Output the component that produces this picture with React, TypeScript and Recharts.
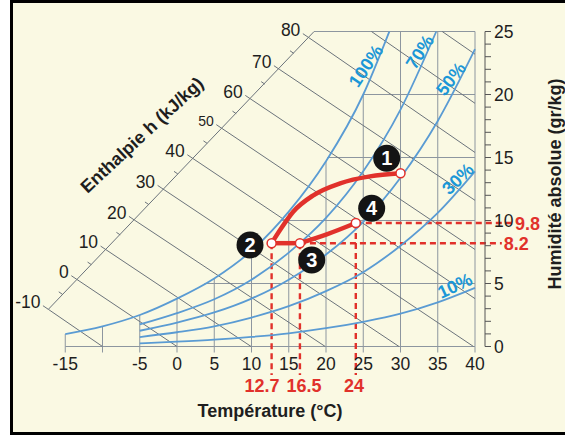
import React from 'react';
import { ComposedChart, Line, Scatter, XAxis, YAxis, ReferenceLine } from 'recharts';

const FONT = "'Liberation Sans', Arial, Helvetica, sans-serif";
const BLUE = '#5a9bd3';
const BLUE_TEXT = '#1b97d7';
const RED = '#e1312b';
const GRID = '#8d969f';
const ENTH = '#6b737b';
const INK = '#1e1e1e';

// x axis: temperature (°C)
const tempTicks = [-15, -10, -5, 0, 5, 10, 15, 20, 25, 30, 35, 40];
// right axis: absolute humidity (g/kg)
const humTicks = [0, 1, 2, 3, 4, 5, 6, 7, 8, 9, 10, 11, 12, 13, 14, 15, 16, 17, 18, 19, 20, 21, 22, 23, 24, 25];

// relative humidity curves (t = °C, w = g/kg)
const rh100 = [
  { t: -15, w: 0.99 }, { t: -10, w: 1.6 }, { t: -5, w: 2.5 }, { t: 0, w: 3.8 }, { t: 5, w: 5.4 },
  { t: 10, w: 7.6 }, { t: 15, w: 10.7 }, { t: 20, w: 14.7 }, { t: 25, w: 20.0 }, { t: 28.5, w: 25 },
];
const rh70 = [
  { t: -5, w: 1.75 }, { t: 0, w: 2.65 }, { t: 5, w: 3.75 }, { t: 10, w: 5.3 }, { t: 15, w: 7.45 },
  { t: 20, w: 10.2 }, { t: 25, w: 13.9 }, { t: 30, w: 18.8 }, { t: 34.8, w: 25 },
];
const rh50 = [
  { t: -5, w: 1.25 }, { t: 0, w: 1.9 }, { t: 5, w: 2.7 }, { t: 10, w: 3.8 }, { t: 15, w: 5.3 },
  { t: 20, w: 7.3 }, { t: 25, w: 9.9 }, { t: 30, w: 13.4 }, { t: 35, w: 17.9 }, { t: 40, w: 23.6 },
];
const rh30 = [
  { t: -5, w: 0.75 }, { t: 0, w: 1.13 }, { t: 5, w: 1.6 }, { t: 10, w: 2.3 }, { t: 15, w: 3.2 },
  { t: 20, w: 4.4 }, { t: 25, w: 5.9 }, { t: 30, w: 8.0 }, { t: 35, w: 10.6 }, { t: 40, w: 13.9 },
];
const rh10 = [
  { t: -5, w: 0.25 }, { t: 0, w: 0.38 }, { t: 5, w: 0.54 }, { t: 10, w: 0.76 }, { t: 15, w: 1.05 },
  { t: 20, w: 1.45 }, { t: 25, w: 1.96 }, { t: 30, w: 2.6 }, { t: 35, w: 3.5 }, { t: 40, w: 4.65 },
];

// vertical grid lines: top end of each one (saturation curve or chart top)
const gridTempTop = [0.99, 1.6, 2.5, 3.8, 5.4, 7.6, 10.7, 14.7, 20.0, 25, 25, 25];
// horizontal grid lines and the temperature where each one begins
const gridHum = [5, 10, 15, 20, 25];
const gridHumStart = [3.7, 14.0, 20.2, 25.0, 18.4];

// enthalpy scale (kJ/kg) and where each tick sits on the slanted axis
const enthalpyTicks = [
  { h: -10, t: -17.27, w: 2.95 }, { h: -5, t: -15.37, w: 4.14 }, { h: 0, t: -13.46, w: 5.33 },
  { h: 5, t: -11.5, w: 6.5 }, { h: 10, t: -9.53, w: 7.68 }, { h: 15, t: -7.63, w: 8.86 },
  { h: 20, t: -5.73, w: 10.04 }, { h: 25, t: -3.8, w: 11.27 }, { h: 30, t: -1.88, w: 12.5 },
  { h: 35, t: 0.1, w: 13.7 }, { h: 40, t: 2.11, w: 14.93 }, { h: 45, t: 4.05, w: 16.12 },
  { h: 50, t: 6.0, w: 17.32 }, { h: 55, t: 7.95, w: 18.48 }, { h: 60, t: 9.89, w: 19.64 },
  { h: 65, t: 11.8, w: 20.82 }, { h: 70, t: 13.73, w: 22.0 }, { h: 75, t: 15.67, w: 23.27 },
  { h: 80, t: 17.62, w: 24.54 },
];
const enthalpyAxisEnd = { t: 18.4, w: 25 };
// constant enthalpy lines beyond the axis: start on the top edge
const enthalpyTopStarts = [{ h: 90, t: 26.1, w: 25 }, { h: 100, t: 35.6, w: 25 }];
// where each constant enthalpy line ends (bottom or right edge)
const enthalpyEnds = [
  { h: -10, t: -10, w: 0 }, { h: 0, t: 0, w: 0 }, { h: 10, t: 9.95, w: 0 }, { h: 20, t: 19.9, w: 0 },
  { h: 30, t: 29.8, w: 0 }, { h: 40, t: 39.8, w: 0 }, { h: 50, t: 40, w: 3.8 }, { h: 60, t: 40, w: 7.7 },
  { h: 70, t: 40, w: 11.6 }, { h: 80, t: 40, w: 15.4 }, { h: 90, t: 40, w: 19.3 }, { h: 100, t: 40, w: 23.2 },
];

// air treatment process
const curve21 = [
  { t: 12.7, w: 8.2 }, { t: 13.83, w: 9.25 }, { t: 15.6, w: 10.7 }, { t: 18.3, w: 12.0 },
  { t: 21.9, w: 12.95 }, { t: 25.9, w: 13.5 }, { t: 30, w: 13.75 },
];
const line23 = [{ t: 12.7, w: 8.2 }, { t: 16.5, w: 8.2 }];
const line34 = [{ t: 16.5, w: 8.2 }, { t: 20.1, w: 8.9 }, { t: 24, w: 9.8 }];
const states = [
  { n: 1, t: 30, w: 13.75 }, { n: 2, t: 12.7, w: 8.2 }, { n: 3, t: 16.5, w: 8.2 }, { n: 4, t: 24, w: 9.8 },
];
const badges = [
  { n: 1, t: 28.15, w: 14.94 }, { n: 2, t: 9.8, w: 8.06 }, { n: 3, t: 18.08, w: 6.87 }, { n: 4, t: 26.13, w: 10.97 },
];
// dashed reading lines
const dropTemps = ['12.7', '16.5', '24'];
const dropTempW = [8.2, 8.2, 9.8];
const dropBottom = -2.26;
const dropHum = ['9.8', '8.2'];
const dropHumFrom = [24, 16.5];
const dropHumTo = [45.1, 43.6];
const dropTempDx = [-9.7, 4, -1.7];

const rhLabels = [
  { text: '100%', x: 366, y: 66, a: -56 },
  { text: '70%', x: 420, y: 52, a: -57 },
  { text: '50%', x: 451, y: 79, a: -52 },
  { text: '30%', x: 458, y: 179, a: -44 },
  { text: '10%', x: 455, y: 286, a: -25 },
];

const DropTempLabel = (props: any) => {
  const { viewBox, text, dx } = props;
  const x = viewBox.x + viewBox.width / 2 + dx;
  const y = viewBox.y + viewBox.height + 17.5;
  return (
    <text x={x} y={y} textAnchor="middle" fill={RED} fontSize={18} fontWeight="bold" fontFamily={FONT}>
      {text}
    </text>
  );
};

const DropHumLabel = (props: any) => {
  const { viewBox, text } = props;
  return (
    <text x={viewBox.x + viewBox.width + 2} y={viewBox.y} dy="0.36em" textAnchor="start" fill={RED}
      fontSize={18} fontWeight="bold" fontFamily={FONT}>
      {text}
    </text>
  );
};

const EnthalpyTick = (p: any) => {
  const { cx, cy, payload } = p;
  const major = payload.h % 10 === 0;
  const len = major ? 6.5 : 4.5;
  const ex = cx - 0.83 * len;
  const ey = cy - 0.56 * len;
  return (
    <g>
      <line x1={cx} y1={cy} x2={ex} y2={ey} stroke={ENTH} strokeWidth={1} />
      {major && (
        <text x={ex - 2.5} y={ey - 4} dy="0.36em" textAnchor="end" fill={INK}
          fontSize={payload.h === 50 ? 14 : 17.5} fontFamily={FONT}>
          {payload.h}
        </text>
      )}
    </g>
  );
};

const StatePoint = (p: any) => (
  <circle cx={p.cx} cy={p.cy} r={4.5} fill="#fff" stroke={RED} strokeWidth={1.5} />
);

const Badge = (p: any) => (
  <g>
    <circle cx={p.cx} cy={p.cy} r={13.5} fill="#141414" />
    <text x={p.cx} y={p.cy} dy="0.36em" textAnchor="middle" fill="#fff" fontSize={20} fontWeight="bold" fontFamily={FONT}>
      {p.payload.n}
    </text>
  </g>
);

const YTick = (p: any) => {
  const { x, y, payload } = p;
  return payload.value % 5 === 0 ? (
    <text x={x} y={y} dy="0.36em" textAnchor="start" fill={INK} fontSize={17.5} fontFamily={FONT}>
      {payload.value}
    </text>
  ) : null;
};

const abs = (x: number, y: number, a: number, extra: any = {}) => ({
  position: 'absolute' as const,
  left: x,
  top: y,
  transform: `translate(-50%, -50%) rotate(${a}deg)`,
  whiteSpace: 'nowrap' as const,
  fontFamily: FONT,
  lineHeight: 1,
  ...extra,
});

export default function App() {
  return (
    <div style={{ position: 'absolute', left: 0, top: 0, width: 565, height: 435, overflow: 'hidden', background: '#fff' }}>
      <div style={{ position: 'absolute', left: 10, top: 0, width: 600, height: 435, border: '3px solid #000', boxSizing: 'border-box', background: '#faf9e3' }} />
      <div style={{ position: 'absolute', left: 0, top: 0 }}>
        <ComposedChart width={565} height={435} margin={{ top: 31.5, right: 0, bottom: 58.5, left: 28 }}>
          <XAxis type="number" dataKey="t" domain={[-20, -20 + 457 / 7.45]} ticks={tempTicks} interval={0}
            axisLine={false} tickSize={6} tickMargin={5.5} height={30}
            tickLine={{ stroke: GRID }}
            tick={{ fill: INK, fontSize: 17.5, fontFamily: FONT }}
            tickFormatter={(v: number) => (v === -10 ? '' : String(v))} />
          <YAxis type="number" dataKey="w" orientation="right" domain={[0, 25]} ticks={humTicks} interval={0}
            width={80} tickSize={6} tickMargin={3} axisLine={{ stroke: '#555' }} tickLine={{ stroke: '#555' }}
            tick={<YTick />} />

          {tempTicks.map((t, i) => (
            <ReferenceLine key={`vg${t}`} segment={[{ x: t, y: gridTempTop[i] }, { x: t, y: 0 }]}
              stroke={GRID} strokeWidth={1} ifOverflow="visible" />
          ))}
          {gridHum.map((w, i) => (
            <ReferenceLine key={`hg${w}`} segment={[{ x: gridHumStart[i], y: w }, { x: 40, y: w }]}
              stroke={GRID} strokeWidth={1} ifOverflow="visible" />
          ))}
          <ReferenceLine segment={[{ x: -15, y: 0 }, { x: 40, y: 0 }]} stroke={GRID} strokeWidth={1} ifOverflow="visible" />
          <ReferenceLine segment={[{ x: enthalpyTicks[0].t, y: enthalpyTicks[0].w }, { x: enthalpyAxisEnd.t, y: enthalpyAxisEnd.w }]}
            stroke={ENTH} strokeWidth={1} ifOverflow="visible" />
          {enthalpyEnds.map((e) => {
            const s = enthalpyTicks.find((k) => k.h === e.h) || enthalpyTopStarts.find((k) => k.h === e.h)!;
            return (
              <ReferenceLine key={`h${e.h}`} segment={[{ x: s.t, y: s.w }, { x: e.t, y: e.w }]}
                stroke={ENTH} strokeWidth={1} ifOverflow="visible" />
            );
          })}

          {dropTemps.map((lbl, i) => (
            <ReferenceLine key={`dt${lbl}`} segment={[{ x: Number(lbl), y: dropTempW[i] }, { x: Number(lbl), y: dropBottom }]}
              stroke={RED} strokeWidth={2.4} strokeDasharray="6 4" ifOverflow="visible"
              label={<DropTempLabel text={lbl} dx={dropTempDx[i]} />} />
          ))}
          {dropHum.map((lbl, i) => (
            <ReferenceLine key={`dh${lbl}`} segment={[{ x: dropHumFrom[i], y: Number(lbl) }, { x: dropHumTo[i], y: Number(lbl) }]}
              stroke={RED} strokeWidth={2.4} strokeDasharray="6 4" ifOverflow="visible"
              label={<DropHumLabel text={lbl} />} />
          ))}

          {[rh100, rh70, rh50, rh30, rh10].map((d, i) => (
            <Line key={`rh${i}`} data={d} dataKey="w" type="monotone" dot={false} stroke={BLUE}
              strokeWidth={1.8} isAnimationActive={false} />
          ))}

          <Line data={curve21} dataKey="w" type="monotone" dot={false} stroke={RED} strokeWidth={4.5} isAnimationActive={false} />
          <Line data={line23} dataKey="w" type="linear" dot={false} stroke={RED} strokeWidth={4.5} isAnimationActive={false} />
          <Line data={line34} dataKey="w" type="monotone" dot={false} stroke={RED} strokeWidth={4.5} isAnimationActive={false} />

          <Scatter data={enthalpyTicks} dataKey="w" shape={<EnthalpyTick />} isAnimationActive={false} />
          <Scatter data={states} dataKey="w" shape={<StatePoint />} isAnimationActive={false} />
          <Scatter data={badges} dataKey="w" shape={<Badge />} isAnimationActive={false} />
        </ComposedChart>
      </div>

      {rhLabels.map((l) => (
        <div key={l.text} style={abs(l.x, l.y, l.a, { color: BLUE_TEXT, fontSize: 18, fontWeight: 'bold' })}>{l.text}</div>
      ))}
      <div style={abs(142, 135, -43, { color: INK, fontSize: 18, fontWeight: 'bold' })}>Enthalpie h (kJ/kg)</div>
      <div style={abs(554.5, 184, -90, { color: INK, fontSize: 18, fontWeight: 'bold' })}>Humidité absolue (gr/kg)</div>
      <div style={abs(270, 411, 0, { color: INK, fontSize: 18, fontWeight: 'bold' })}>Température (°C)</div>
    </div>
  );
}
